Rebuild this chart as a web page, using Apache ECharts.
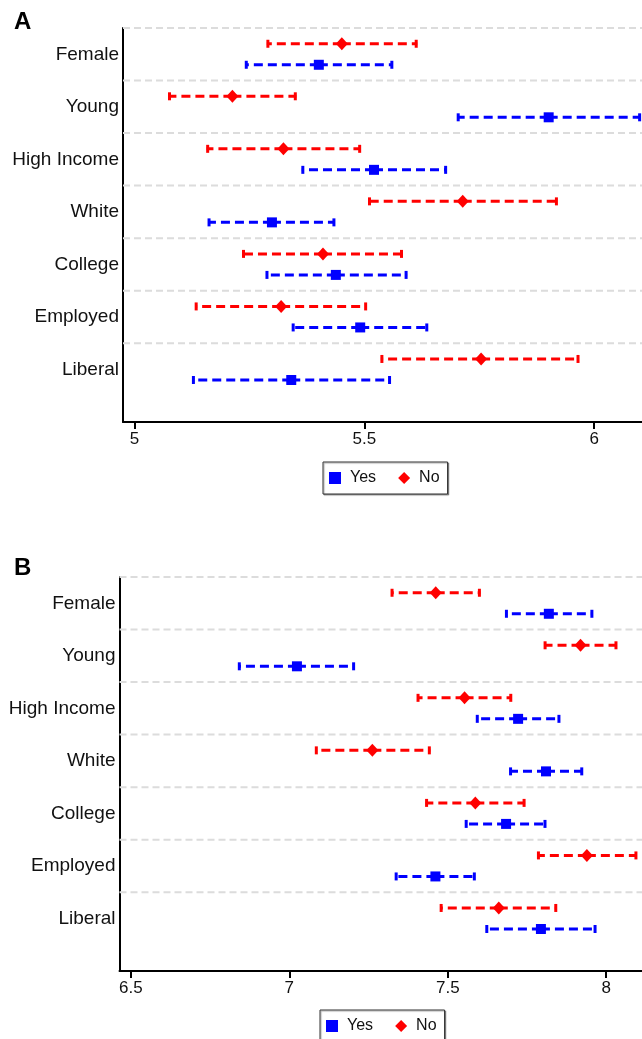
<!DOCTYPE html>
<html>
<head>
<meta charset="utf-8">
<script src="https://cdn.jsdelivr.net/npm/echarts@6/dist/echarts.min.js"></script>
<style>
html,body{margin:0;padding:0;background:#fff;}
#chart{width:642px;height:1039px;}
</style>
</head>
<body>
<div id="chart"></div>
<script>
const categories = ['Female','Young','High Income','White','College','Employed','Liberal'];

// Panel A
const aYesEst = [5.401, 5.901, 5.521, 5.299, 5.438, 5.491, 5.341];
const aYesLo  = [5.241, 5.702, 5.364, 5.160, 5.286, 5.343, 5.126];
const aYesHi  = [5.562, 6.101, 5.679, 5.436, 5.593, 5.638, 5.557];
const aNoEst  = [5.451, 5.213, 5.324, 5.714, 5.410, 5.319, 5.754];
const aNoLo   = [5.288, 5.074, 5.157, 5.509, 5.235, 5.132, 5.536];
const aNoHi   = [5.615, 5.352, 5.492, 5.920, 5.583, 5.505, 5.967];
const aTicks  = [5, 5.5, 6];

// Panel B
const bYesEst = [7.819, 7.024, 7.722, 7.810, 7.684, 7.461, 7.794];
const bYesLo  = [7.682, 6.839, 7.590, 7.695, 7.555, 7.334, 7.620];
const bYesHi  = [7.958, 7.206, 7.854, 7.926, 7.810, 7.587, 7.968];
const bNoEst  = [7.462, 7.919, 7.553, 7.262, 7.587, 7.939, 7.661];
const bNoLo   = [7.321, 7.804, 7.403, 7.082, 7.430, 7.783, 7.476];
const bNoHi   = [7.603, 8.034, 7.702, 7.445, 7.744, 8.097, 7.844];
const bTicks  = [6.5, 7, 7.5, 8];

const FONT = 'Liberation Sans, Arial, Helvetica, sans-serif';
const BLUE = '#0000ff', RED = '#ff0000';

function rows(lo, est, hi){ return est.map((e,i)=>[i, lo[i], e, hi[i]]); }

function errRender(offset, color, kind){
  return function(params, api){
    const idx = api.value(0);
    const pLo = api.coord([api.value(1), idx + offset]);
    const pE  = api.coord([api.value(2), idx + offset]);
    const pHi = api.coord([api.value(3), idx + offset]);
    const y = pE[1];
    const ls = {stroke: color, lineWidth: 3, lineDash: [9,5], lineCap:'butt'};
    const cs = {stroke: color, lineWidth: 3, lineCap:'butt'};
    const children = [
      {type:'line', shape:{x1:pE[0], y1:y, x2:pLo[0], y2:y}, style:ls},
      {type:'line', shape:{x1:pE[0], y1:y, x2:pHi[0], y2:y}, style:ls},
      {type:'line', shape:{x1:pLo[0]+1, y1:y-4, x2:pLo[0]+1, y2:y+4}, style:cs},
      {type:'line', shape:{x1:pHi[0]-1, y1:y-4, x2:pHi[0]-1, y2:y+4}, style:cs}
    ];
    if (kind === 'square') {
      children.push({type:'rect', shape:{x:pE[0]-5, y:y-5, width:10, height:10}, style:{fill:color}});
    } else {
      children.push({type:'polygon', shape:{points:[[pE[0], y-6.5],[pE[0]+6, y],[pE[0], y+6.5],[pE[0]-6, y]]}, style:{fill:color}});
    }
    return {type:'group', children};
  };
}

function gridRender(params, api){
  const cs = params.coordSys;
  const y = api.coord([0, api.value(0)])[1];
  return {type:'line', shape:{x1:cs.x, y1:y, x2:cs.x+cs.width, y2:y},
    style:{stroke:'#dcdcdc', lineWidth:2, lineDash:[7,4]}};
}

const gridLines = categories.map((c,i)=>[i-0.5]);
const catIdx = categories.map((c,i)=>i);

function yAxis(gi){
  return {
    type:'value', gridIndex:gi, min:-0.5, max:7, inverse:true,
    splitLine:{show:false}, axisTick:{show:false},
    axisLine:{show:true, lineStyle:{color:'#000', width:2}},
    axisLabel:{customValues:catIdx, formatter:(v)=>categories[Math.round(v)] || '',
      fontSize:19, color:'#111', fontFamily:FONT, margin:4, padding:[4,0,0,0]}
  };
}
function xAxis(gi, min, max, ticks){
  return {
    type:'value', gridIndex:gi, min:min, max:max,
    splitLine:{show:false},
    axisLine:{show:true, onZero:false, lineStyle:{color:'#000', width:2}},
    axisTick:{show:true, customValues:ticks, length:7, lineStyle:{color:'#000', width:2}},
    axisLabel:{customValues:ticks, fontSize:17, color:'#111', fontFamily:FONT, margin:9}
  };
}

const legendCommon = {
  orient:'horizontal', itemWidth:12, itemHeight:12, itemGap:22,
  padding:[8,8,8,6], borderColor:'#333', borderWidth:1, backgroundColor:'#fff',
  shadowColor:'rgba(0,0,0,0.35)', shadowOffsetX:1, shadowOffsetY:1, shadowBlur:1,
  textStyle:{fontSize:16, color:'#111', fontFamily:FONT, padding:[0,0,0,4]},
  data:[{name:'Yes', icon:'rect'}, {name:'No', icon:'diamond'}]
};

const option = {
  animation:false,
  backgroundColor:'#fff',
  title:[
    {text:'A', left:14, top:10, padding:0, textStyle:{fontSize:24, fontWeight:'bold', color:'#000', fontFamily:FONT}},
    {text:'B', left:14, top:556, padding:0, textStyle:{fontSize:24, fontWeight:'bold', color:'#000', fontFamily:FONT}}
  ],
  legend:[
    Object.assign({}, legendCommon, {left:323, top:462}),
    Object.assign({}, legendCommon, {left:320, top:1010})
  ],
  grid:[
    {left:123, right:0, top:28, height:394},
    {left:119.5, right:0, top:577, height:394}
  ],
  xAxis:[ xAxis(0, 4.975, 6.104, aTicks), xAxis(1, 6.464, 8.113, bTicks) ],
  yAxis:[ yAxis(0), yAxis(1) ],
  series:[
    {type:'custom', xAxisIndex:0, yAxisIndex:0, renderItem:gridRender, data:gridLines, silent:true, z:1},
    {type:'custom', xAxisIndex:1, yAxisIndex:1, renderItem:gridRender, data:gridLines, silent:true, z:1},
    {name:'Yes', type:'custom', xAxisIndex:0, yAxisIndex:0, renderItem:errRender(0.2, BLUE, 'square'), data:rows(aYesLo,aYesEst,aYesHi), itemStyle:{color:BLUE}, z:3},
    {name:'No', type:'custom', xAxisIndex:0, yAxisIndex:0, renderItem:errRender(-0.2, RED, 'diamond'), data:rows(aNoLo,aNoEst,aNoHi), itemStyle:{color:RED}, z:3},
    {name:'Yes', type:'custom', xAxisIndex:1, yAxisIndex:1, renderItem:errRender(0.2, BLUE, 'square'), data:rows(bYesLo,bYesEst,bYesHi), itemStyle:{color:BLUE}, z:3},
    {name:'No', type:'custom', xAxisIndex:1, yAxisIndex:1, renderItem:errRender(-0.2, RED, 'diamond'), data:rows(bNoLo,bNoEst,bNoHi), itemStyle:{color:RED}, z:3}
  ]
};

const chart = echarts.init(document.getElementById('chart'), null, {renderer:'canvas'});
chart.setOption(option);
</script>
</body>
</html>
